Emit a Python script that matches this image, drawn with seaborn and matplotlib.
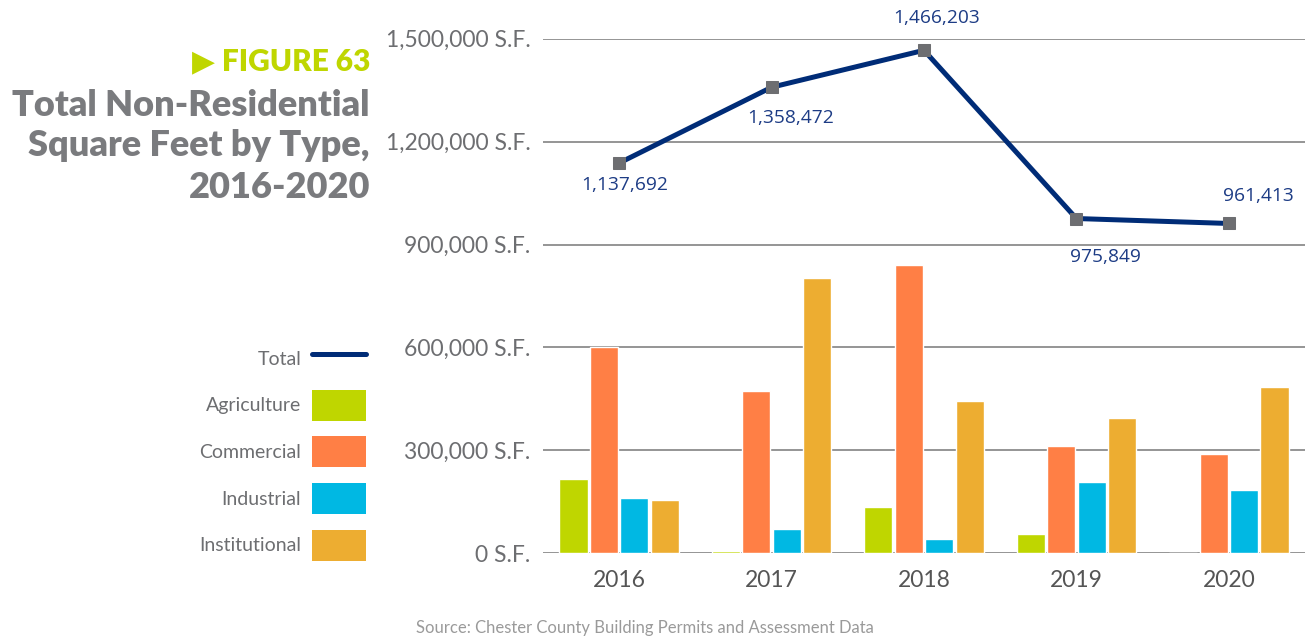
import numpy as np
import pandas as pd
import seaborn as sns
import matplotlib.pyplot as plt
from matplotlib.lines import Line2D
from matplotlib.patches import Patch
from matplotlib.ticker import FuncFormatter

years = ["2016", "2017", "2018", "2019", "2020"]
types = ["Agriculture", "Commercial", "Industrial", "Institutional"]
agriculture = [216000, 7000, 134000, 56000, 1000]
commercial = [602000, 474000, 840000, 314000, 289000]
industrial = [161000, 71000, 42000, 207000, 184000]
institutional = [155000, 803000, 445000, 393000, 486000]
totals = [1137692, 1358472, 1466203, 975849, 961413]
total_labels = ["1,137,692", "1,358,472", "1,466,203", "975,849", "961,413"]
yticks = [0, 300000, 600000, 900000, 1200000, 1500000]

colors = {"Agriculture": "#BFD600", "Commercial": "#FF7F45",
          "Industrial": "#00B8E3", "Institutional": "#EDAD31"}
navy = "#002C77"
grey = "#6D6E71"

df = pd.DataFrame({
    "Year": np.repeat(years, len(types)),
    "Type": types * len(years),
    "SF": np.column_stack([agriculture, commercial, industrial, institutional]).ravel(),
})

sns.set_style("white")
plt.rcParams["font.family"] = ["Lato", "DejaVu Sans"]

W, H = 1308, 637
fig = plt.figure(figsize=(W / 100, H / 100), dpi=100)
ax = fig.add_axes([543 / W, 1 - 553.3 / H, 762 / W, (553.3 - 38.7) / H])

sns.barplot(data=df, x="Year", y="SF", hue="Type", hue_order=types, order=years,
            palette=colors, width=0.8, gap=0.08, saturation=1, legend=False,
            ax=ax, zorder=2)

sns.lineplot(x=np.arange(len(years)), y=totals, ax=ax, color=navy, lw=3.6,
             marker="s", markersize=8, markerfacecolor=grey, markeredgecolor=grey,
             zorder=4)

# data labels for totals (pixel offsets from each marker)
offsets = [(5, -22), (19, -31), (13, 32), (29, -38), (30, 27)]
for i, (lab, (dx, dy)) in enumerate(zip(total_labels, offsets)):
    ax.annotate(lab, (i, totals[i]), xytext=(dx, dy), textcoords="offset pixels",
                ha="center", va="center", color="#1D3C85", fontsize=13.8,
                family=["Open Sans", "DejaVu Sans"], zorder=5)

ax.set_xlim(-0.5, 4.5)
ax.set_ylim(0, 1500000)
ax.set_yticks(yticks)
ax.yaxis.set_major_formatter(FuncFormatter(lambda v, p: f"{int(v):,} S.F."))
ax.grid(axis="y", color="#8C8C8C", lw=1.3, zorder=0)
ax.set_axisbelow(True)
for s in ax.spines.values():
    s.set_visible(False)
ax.tick_params(axis="y", length=0, pad=9, labelsize=16.5, labelcolor=grey)
ax.tick_params(axis="x", length=0, pad=12, labelsize=16.5, labelcolor="#555555")
ax.set_xlabel("")
ax.set_ylabel("")

# title block
fig.text(370 / W, 1 - 61 / H, "▶ FIGURE 63", ha="right", va="center",
         color="#BFD600", fontsize=21.5, fontweight="heavy",
         family=["Lato", "DejaVu Sans"])
for txt, y in [("Total Non-Residential", 106), ("Square Feet by Type,", 146),
               ("2016-2020", 188)]:
    fig.text(370 / W, 1 - y / H, txt, ha="right", va="center", color="#7A7B7E",
             fontsize=26, fontweight="heavy")

# legend
handles = [Line2D([], [], color=navy, lw=3.6)] + \
          [Patch(facecolor=colors[t], edgecolor="none") for t in types]
fig.legend(handles, ["Total"] + types, loc="upper right",
           bbox_to_anchor=(366 / W, 1 - 343 / H), markerfirst=False, frameon=False,
           fontsize=14, labelcolor=grey, handlelength=2.78, handleheight=2.07,
           labelspacing=0.81, handletextpad=0.55, borderpad=0, borderaxespad=0)

fig.text(645 / W, 1 - 628 / H, "Source: Chester County Building Permits and Assessment Data",
         ha="center", va="center", color="#9A9A9A", fontsize=12)

fig.savefig("out.png", dpi=100)
